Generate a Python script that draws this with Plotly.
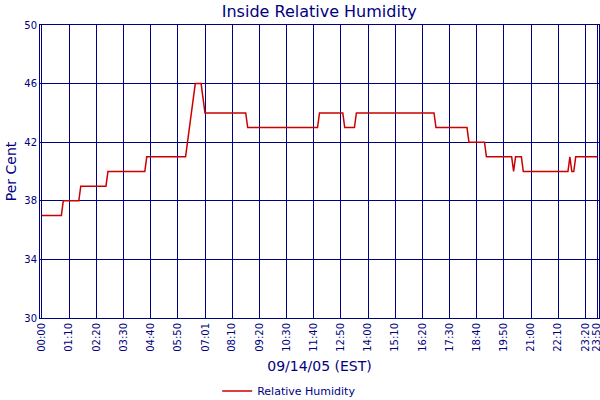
import plotly.graph_objects as go

# Minutes after midnight where the reading changes, and the reading (per cent)
minutes = [0, 50, 55, 95, 100, 165, 170, 265, 270, 370, 375, 380, 385, 390, 395,
           410, 415, 420, 525, 530, 710, 715, 775, 780, 805, 810, 1010, 1015,
           1095, 1100, 1140, 1145, 1210, 1215, 1220, 1235, 1240, 1355, 1360,
           1365, 1370, 1375, 1430]
humidity = [37, 37, 38, 38, 39, 39, 40, 40, 41, 41, 42, 43, 44, 45, 46,
            46, 45, 44, 44, 43, 43, 44, 44, 43, 43, 44, 44, 43,
            43, 42, 42, 41, 41, 40, 41, 41, 40, 40, 41,
            40, 40, 41, 41]

tick_minutes = [0, 70, 140, 210, 280, 350, 421, 490, 560, 630, 700, 770, 840,
                910, 980, 1050, 1120, 1190, 1260, 1330, 1400, 1430]
tick_labels = ["00:00", "01:10", "02:20", "03:30", "04:40", "05:50", "07:01",
               "08:10", "09:20", "10:30", "11:40", "12:50", "14:00", "15:10",
               "16:20", "17:30", "18:40", "19:50", "21:00", "22:10", "23:20",
               "23:50"]
y_ticks = [30, 34, 38, 42, 46, 50]

navy = "#000080"
font = "DejaVu Sans"

fig = go.Figure()
fig.add_trace(go.Scatter(
    x=minutes, y=humidity, mode="lines", name="Relative Humidity",
    line=dict(color="#cc0000", width=1.5),
))

fig.update_layout(
    width=600, height=400,
    margin=dict(l=40, r=1, t=25, b=82, autoexpand=False),
    paper_bgcolor="white", plot_bgcolor="white",
    font=dict(family=font, color=navy),
    title=dict(text="Inside Relative Humidity", x=0.532, xanchor="center",
               y=0.972, yanchor="middle", font=dict(size=16, color=navy, family=font)),
    showlegend=True,
    legend=dict(orientation="h", x=0.317, xanchor="left", y=-0.20, yanchor="top",
                itemwidth=30, font=dict(size=11, color=navy, family=font)),
    xaxis=dict(
        range=[-5, 1435], tickmode="array", tickvals=tick_minutes, ticktext=tick_labels,
        tickangle=-90, tickfont=dict(size=10, color=navy, family=font),
        ticklabeloverflow="allow",
        showgrid=True, gridcolor=navy, gridwidth=1,
        showline=True, linecolor=navy, linewidth=1, mirror=True,
        zeroline=False, ticks="", automargin=False,
        title=dict(text="09/14/05 (EST)", font=dict(size=14, color=navy, family=font), standoff=10),
    ),
    yaxis=dict(
        range=[30, 50], tickmode="array", tickvals=y_ticks,
        tickfont=dict(size=10, color=navy, family=font),
        showgrid=True, gridcolor=navy, gridwidth=1,
        showline=True, linecolor=navy, linewidth=1, mirror=True,
        zeroline=False, ticks="", automargin=False,
        title=dict(text="Per Cent", font=dict(size=14, color=navy, family=font), standoff=4),
    ),
)

fig.write_html("out.html", config={"displayModeBar": False},
               post_script="document.body.style.margin='0';")
